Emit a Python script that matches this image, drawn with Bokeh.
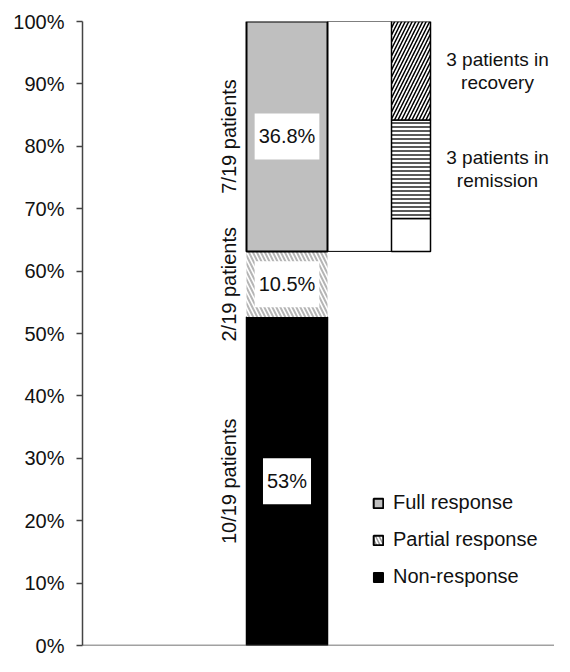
import math
from bokeh.plotting import figure
from bokeh.models import (Range1d, FixedTicker, PrintfTickFormatter, Span,
                          Legend, LegendItem)
from bokeh.core.properties import value
from bokeh.embed import file_html
from bokeh.resources import INLINE

# ---- data ----
categories = ["Non-response", "Partial response", "Full response"]
patients = [10, 2, 7]
total_patients = 19
share_labels = ["53%", "10.5%", "36.8%"]
count_labels = ["10/19 patients", "2/19 patients", "7/19 patients"]

sub_groups = ["other", "remission", "recovery"]
sub_patients = [1, 3, 3]
sub_labels = ["", "3 patients in\nremission", "3 patients in\nrecovery"]

y_ticks = [0, 10, 20, 30, 40, 50, 60, 70, 80, 90, 100]

# ---- derived ----
pct = [n / total_patients * 100 for n in patients]
bottoms, tops = [], []
acc = 0.0
for v in pct:
    bottoms.append(acc)
    acc += v
    tops.append(acc)
mids = [(b + t) / 2 for b, t in zip(bottoms, tops)]

full_bottom = bottoms[2]
sub_pct = [n / total_patients * 100 for n in sub_patients]
sb, st = [], []
acc = full_bottom
for v in sub_pct:
    sb.append(acc)
    acc += v
    st.append(acc)
smids = [(b + t) / 2 for b, t in zip(sb, st)]

# ---- layout constants (frame px units) ----
MAIN_X, MAIN_W = 204.5, 81
SUB_X, SUB_W = 328.5, 39
LABEL_X = 146
ANNOT_X = 415
FONT = "Liberation Sans"
NAN = float("nan")

p = figure(width=554, height=656, output_backend="svg", toolbar_location=None,
           x_range=Range1d(0, 472), y_range=Range1d(0, 100),
           min_border_left=82, min_border_right=0, min_border_top=21,
           min_border_bottom=11)
p.outline_line_color = None
p.grid.visible = False
p.xaxis.visible = False

ax = p.yaxis[0]
ax.ticker = FixedTicker(ticks=y_ticks)
ax.formatter = PrintfTickFormatter(format="%d%%")
ax.major_tick_in = 0
ax.major_tick_out = 6
ax.minor_tick_out = 0
ax.minor_tick_in = 0
ax.axis_line_color = "#444444"
ax.axis_line_width = 1.5
ax.major_tick_line_color = "#444444"
ax.major_tick_line_width = 1.5
ax.major_label_text_font = FONT
ax.major_label_text_font_size = "20px"
ax.major_label_text_color = "#111111"
ax.major_label_standoff = 12

p.add_layout(Span(location=0, dimension="width", line_color="#444444",
                  line_width=1.5))

# connector box between main bar and sub bar
p.quad(left=[MAIN_X + MAIN_W / 2], right=[SUB_X - SUB_W / 2],
       bottom=[full_bottom], top=[tops[2]], fill_color="white",
       line_color="black", line_width=1)

# main stacked bar
r_non = p.vbar(x=[MAIN_X], width=MAIN_W, bottom=[bottoms[0]], top=[tops[0]],
               fill_color="black", line_color="black", line_width=1.5)
p.vbar(x=[MAIN_X], width=MAIN_W, bottom=[bottoms[1]], top=[tops[1]],
       fill_color="white", line_color=None, hatch_pattern="\\",
       hatch_color="#b5b5b5", hatch_weight=2, hatch_scale=8)
r_full = p.vbar(x=[MAIN_X], width=MAIN_W, bottom=[bottoms[2]], top=[tops[2]],
                fill_color="#bfbfbf", line_color="black", line_width=2)

# proxy for partial legend entry (not drawn in plot: NaN extent)
r_part_leg = p.vbar(x=[MAIN_X], width=MAIN_W, bottom=[NAN], top=[NAN],
                    fill_color="white", line_color="black", line_width=2,
                    hatch_pattern="\\", hatch_color="#999999", hatch_weight=1.5,
                    hatch_scale=7)

# sub bar
p.vbar(x=[SUB_X], width=SUB_W, bottom=[sb[0]], top=[st[0]],
       fill_color="white", line_color="black", line_width=1.5)
p.vbar(x=[SUB_X], width=SUB_W, bottom=[sb[1]], top=[st[1]],
       fill_color="white", line_color="black", line_width=1.5,
       hatch_pattern="-", hatch_color="black", hatch_weight=1.3, hatch_scale=4)
p.vbar(x=[SUB_X], width=SUB_W, bottom=[sb[2]], top=[st[2]],
       fill_color="white", line_color="black", line_width=1.5,
       hatch_pattern="/", hatch_color="black", hatch_weight=1.5, hatch_scale=7)

# value boxes
p.text(x=[MAIN_X] * 3, y=mids, text=share_labels, text_align="center",
       text_baseline="middle", text_font=value(FONT), text_font_size="20px",
       text_color="#111111", background_fill_color="white",
       padding=dict(left=4, right=4, top=12, bottom=12))

# rotated count labels
p.text(x=[LABEL_X] * 3, y=mids, text=count_labels, angle=math.pi / 2,
       text_align="center", text_baseline="middle", text_font=value(FONT),
       text_font_size="20px", text_color="#111111")

# sub bar annotations
p.text(x=[ANNOT_X] * 2, y=smids[1:], text=sub_labels[1:], text_align="center",
       text_baseline="middle", text_font=value(FONT), text_font_size="19px",
       text_color="#111111", text_line_height=1.1)

legend = Legend(items=[LegendItem(label=categories[2], renderers=[r_full]),
                       LegendItem(label=categories[1], renderers=[r_part_leg]),
                       LegendItem(label=categories[0], renderers=[r_non])],
                location=(290, 57), glyph_width=12, glyph_height=12,
                label_height=20, spacing=14, padding=0, margin=0,
                label_standoff=9, border_line_color=None,
                background_fill_alpha=0, label_text_font=FONT,
                label_text_font_size="20px", label_text_color="#111111")
p.add_layout(legend, "center")

open("out.html", "w").write(file_html(p, INLINE))
